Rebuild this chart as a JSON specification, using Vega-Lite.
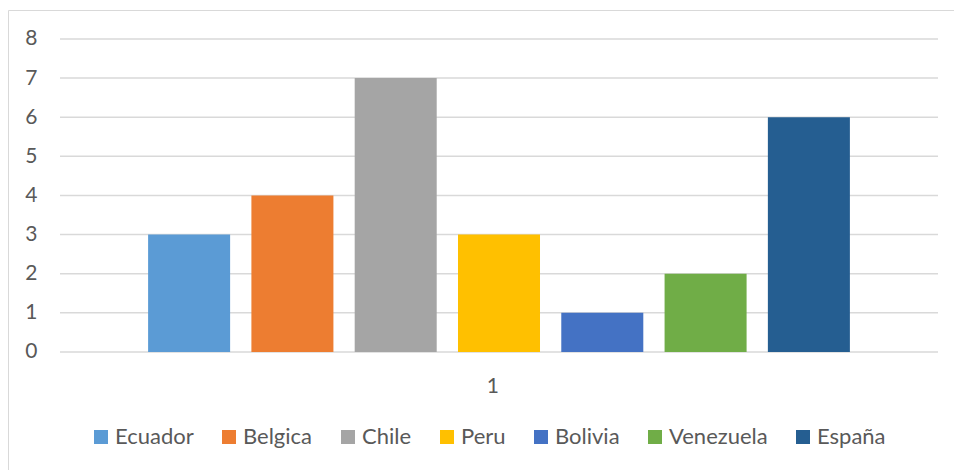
{
  "$schema": "https://vega.github.io/schema/vega-lite/v6.json",
  "width": 946,
  "height": 460,
  "autosize": {"type": "none"},
  "padding": {"left": 8, "top": 10, "right": 0, "bottom": 0},
  "background": "#ffffff",
  "config": {
    "view": {"stroke": null},
    "font": "Lato"
  },
  "layer": [
    {
      "data": {"values": [
        {"c": "1", "g": 0}, {"c": "1", "g": 1}, {"c": "1", "g": 2}, {"c": "1", "g": 3}, {"c": "1", "g": 4},
        {"c": "1", "g": 5}, {"c": "1", "g": 6}, {"c": "1", "g": 7}, {"c": "1", "g": 8}
      ]},
      "mark": {"type": "rule", "color": "#d9d9d9", "strokeWidth": 1.5},
      "encoding": {
        "x": {"field": "c", "type": "nominal", "bandPosition": 0},
        "x2": {"datum": "1", "bandPosition": 1},
        "y": {"field": "g", "type": "quantitative"}
      }
    },
    {
      "data": {"values": [
        {"c": "1", "country": "Ecuador", "v": 3},
        {"c": "1", "country": "Belgica", "v": 4},
        {"c": "1", "country": "Chile", "v": 7},
        {"c": "1", "country": "Peru", "v": 3},
        {"c": "1", "country": "Bolivia", "v": 1},
        {"c": "1", "country": "Venezuela", "v": 2},
        {"c": "1", "country": "España", "v": 6}
      ]},
      "mark": {"type": "bar"},
      "encoding": {
        "x": {
          "field": "c", "type": "nominal",
          "scale": {"paddingInner": 0, "paddingOuter": 0.03872, "align": 0.7647},
          "axis": {
            "orient": "top", "title": null, "domain": true, "domainColor": "#d9d9d9", "domainWidth": 1,
            "ticks": false, "grid": false, "labelAngle": 0,
            "labelFontSize": 21, "labelColor": "#595959", "labelFont": "Lato",
            "labelBaseline": "alphabetic", "labelPadding": -382
          }
        },
        "xOffset": {
          "field": "country", "type": "nominal",
          "sort": ["Ecuador", "Belgica", "Chile", "Peru", "Bolivia", "Venezuela", "España"],
          "scale": {"paddingInner": 0.206, "paddingOuter": 0.853}
        },
        "y": {
          "field": "v", "type": "quantitative",
          "scale": {"domain": [-3.016, 8.741], "nice": false, "zero": false},
          "axis": {
            "title": null, "values": [0, 1, 2, 3, 4, 5, 6, 7, 8], "grid": false,
            "domain": true, "domainColor": "#d9d9d9", "domainWidth": 1,
            "ticks": false, "labelPadding": -29,
            "labelFontSize": 21, "labelColor": "#595959", "labelFont": "Lato"
          }
        },
        "y2": {"datum": 0},
        "color": {
          "field": "country", "type": "nominal",
          "scale": {
            "domain": ["Ecuador", "Belgica", "Chile", "Peru", "Bolivia", "Venezuela", "España"],
            "range": ["#5b9bd5", "#ed7d31", "#a5a5a5", "#ffc000", "#4472c4", "#70ad47", "#255e91"]
          },
          "legend": {
            "title": null, "orient": "none", "legendX": 82, "legendY": 416,
            "direction": "horizontal", "columns": 7,
            "symbolType": "square", "symbolSize": 196, "symbolStrokeWidth": 0, "symbolOpacity": 1,
            "labelFontSize": 22, "labelColor": "#595959", "labelFont": "Lato",
            "labelOffset": 3, "columnPadding": 24
          }
        }
      }
    }
  ]
}
